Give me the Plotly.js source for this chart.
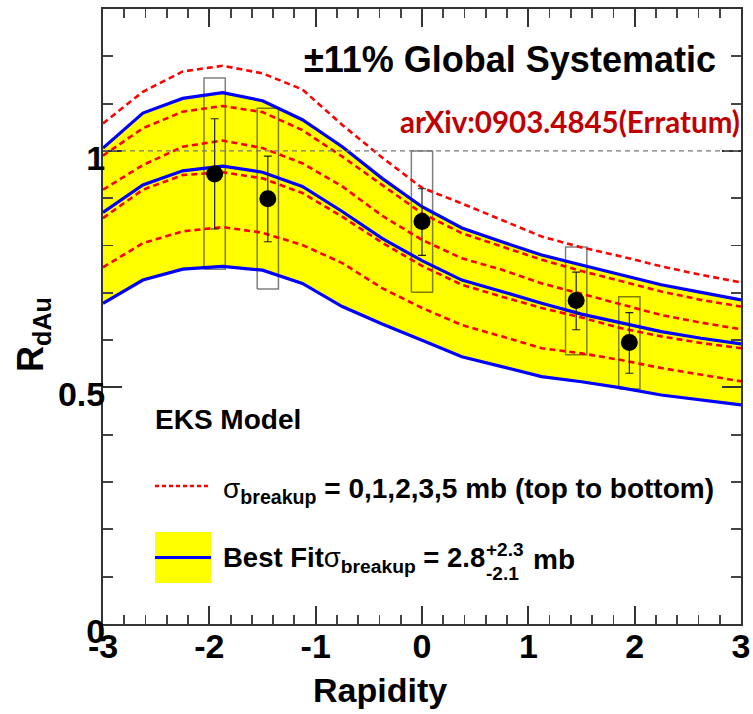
<!DOCTYPE html>
<html>
<head>
<meta charset="utf-8">
<script src="https://cdn.plot.ly/plotly-3.0.1.min.js"></script>
<style>html,body{margin:0;padding:0;background:#fff;}#chart{width:753px;height:714px;}</style>
</head>
<body>
<div id="chart"></div>
<script>
// ---- data ----
const rapidity   = [-3, -2.625, -2.25, -1.875, -1.5, -1.125, -0.75, -0.375, 0, 0.375, 0.75, 1.125, 1.5, 1.875, 2.25, 2.625, 3];
const sigma0     = [1.058, 1.125, 1.168, 1.180, 1.164, 1.130, 1.055, 0.986, 0.922, 0.889, 0.854, 0.819, 0.796, 0.777, 0.756, 0.738, 0.722];
const sigma1     = [0.990, 1.048, 1.083, 1.095, 1.082, 1.044, 0.988, 0.928, 0.868, 0.826, 0.798, 0.770, 0.746, 0.724, 0.703, 0.685, 0.671];
const sigma2     = [0.918, 0.970, 1.009, 1.022, 1.006, 0.974, 0.925, 0.863, 0.812, 0.773, 0.749, 0.720, 0.698, 0.675, 0.653, 0.637, 0.623];
const sigma3     = [0.858, 0.918, 0.949, 0.955, 0.942, 0.911, 0.861, 0.806, 0.757, 0.717, 0.692, 0.668, 0.648, 0.625, 0.608, 0.594, 0.583];
const sigma5     = [0.754, 0.805, 0.830, 0.839, 0.827, 0.801, 0.763, 0.710, 0.668, 0.632, 0.608, 0.583, 0.572, 0.558, 0.541, 0.527, 0.513];
const fitUpper   = [1.006, 1.080, 1.111, 1.123, 1.106, 1.066, 1.009, 0.942, 0.882, 0.837, 0.808, 0.780, 0.759, 0.738, 0.717, 0.701, 0.685];
const fitCentral = [0.870, 0.928, 0.958, 0.968, 0.955, 0.925, 0.872, 0.815, 0.768, 0.727, 0.703, 0.678, 0.655, 0.636, 0.618, 0.604, 0.592];
const fitLower   = [0.678, 0.727, 0.750, 0.756, 0.748, 0.720, 0.671, 0.634, 0.600, 0.565, 0.544, 0.523, 0.512, 0.499, 0.484, 0.474, 0.463];

const dataRapidity = [-1.95, -1.45, 0, 1.45, 1.95];
const dataRdAu     = [0.951, 0.899, 0.851, 0.684, 0.595];
const statHigh     = [1.068, 0.989, 0.920, 0.744, 0.658];
const statLow      = [0.835, 0.808, 0.779, 0.622, 0.530];
const sysHigh      = [1.154, 1.090, 1.000, 0.797, 0.692];
const sysLow       = [0.750, 0.708, 0.701, 0.569, 0.497];
const referenceLevel = 1;

const xTickVals = [-3, -2, -1, 0, 1, 2, 3];
const xTickText = ['-3', '-2', '-1', '0', '1', '2', '3'];
const yTickVals = [0, 0.5, 1];
const yTickText = ['0', '0.5', '1'];

// ---- layout helpers (pixel -> paper) ----
const M = {l: 103, r: 12, t: 9, b: 90}, W = 753, H = 714;
const PW = W - M.l - M.r, PH = H - M.t - M.b;
const px = x => (x - M.l) / PW;
const py = y => (H - M.b - y) / PH;

const FONT = 'Liberation Sans, Arial, Helvetica, sans-serif';
const boxHalf = 0.1;

// systematic boxes as closed rectangles
const boxX = [], boxY = [];
dataRapidity.forEach((x, i) => {
  boxX.push(x - boxHalf, x + boxHalf, x + boxHalf, x - boxHalf, x - boxHalf, null);
  boxY.push(sysLow[i], sysLow[i], sysHigh[i], sysHigh[i], sysLow[i], null);
});

const red = {color: '#ff0000', width: 2.6, dash: '6px,4px'};
const blue = {color: '#0000ff', width: 3.2};

const traces = [
  {x: rapidity, y: fitLower, mode: 'lines', line: {width: 0}, hoverinfo: 'skip', showlegend: false},
  {x: rapidity, y: fitUpper, mode: 'lines', line: {width: 0}, fill: 'tonexty', fillcolor: '#ffff00', hoverinfo: 'skip', showlegend: false},
  {x: boxX, y: boxY, mode: 'lines', line: {color: 'rgba(0,0,0,0.5)', width: 1.5}, showlegend: false},
  {x: rapidity, y: sigma0, mode: 'lines', line: red, showlegend: false},
  {x: rapidity, y: sigma1, mode: 'lines', line: red, showlegend: false},
  {x: rapidity, y: sigma2, mode: 'lines', line: red, showlegend: false},
  {x: rapidity, y: sigma3, mode: 'lines', line: red, showlegend: false},
  {x: rapidity, y: sigma5, mode: 'lines', line: red, showlegend: false},
  {x: rapidity, y: fitUpper, mode: 'lines', line: blue, showlegend: false},
  {x: rapidity, y: fitCentral, mode: 'lines', line: blue, showlegend: false},
  {x: rapidity, y: fitLower, mode: 'lines', line: blue, showlegend: false},
  {x: dataRapidity, y: dataRdAu, mode: 'markers',
   marker: {color: '#000', size: 17},
   error_y: {type: 'data', symmetric: false,
             array: dataRdAu.map((v, i) => statHigh[i] - v),
             arrayminus: dataRdAu.map((v, i) => v - statLow[i]),
             color: '#222', thickness: 1.2, width: 4},
   showlegend: false}
];

const txt = (text, x, y, size, opts = {}) => Object.assign({
  text, x: px(x), y: py(y), xref: 'paper', yref: 'paper', showarrow: false,
  xanchor: 'left', yanchor: 'middle',
  font: {family: FONT, size, color: '#000', weight: 'bold'}
}, opts);

const layout = {
  width: W, height: H, margin: M,
  paper_bgcolor: '#fff', plot_bgcolor: '#fff',
  showlegend: false,
  xaxis: {
    range: [-3, 3], tickmode: 'array', tickvals: xTickVals, ticktext: xTickText,
    ticks: 'inside', ticklen: 18, tickwidth: 2, tickcolor: '#333',
    minor: {tickmode: 'linear', dtick: 0.2, tick0: -3, ticks: 'inside', ticklen: 9, tickwidth: 1.8, tickcolor: '#444', showgrid: false},
    showline: true, linecolor: '#333', linewidth: 2, mirror: 'allticks',
    showgrid: false, zeroline: false, ticklabelstandoff: -9,
    tickfont: {family: FONT, size: 34, color: '#000', weight: 'bold'}
  },
  yaxis: {
    range: [0, 1.3], tickmode: 'array', tickvals: yTickVals, ticktext: yTickText,
    ticks: 'inside', ticklen: 19, tickwidth: 2, tickcolor: '#333',
    minor: {tickmode: 'linear', dtick: 0.1, tick0: 0, ticks: 'inside', ticklen: 10, tickwidth: 1.8, tickcolor: '#444', showgrid: false},
    showline: true, linecolor: '#333', linewidth: 2, mirror: 'allticks',
    showgrid: false, zeroline: false, ticklabelstandoff: -11, ticklabelshift: 7,
    tickfont: {family: FONT, size: 34, color: '#000', weight: 'bold'}
  },
  shapes: [
    {type: 'line', xref: 'paper', x0: 0, x1: 1, yref: 'y', y0: referenceLevel, y1: referenceLevel,
     line: {color: '#777', width: 1.2, dash: '5px,4px'}, layer: 'above'},
    // legend samples
    {type: 'line', xref: 'paper', yref: 'paper', x0: px(155), x1: px(211), y0: py(486), y1: py(486),
     line: {color: '#ff0000', width: 2.4, dash: '4px,3px'}},
    {type: 'rect', xref: 'paper', yref: 'paper', x0: px(155), x1: px(211), y0: py(583), y1: py(532),
     fillcolor: '#ffff00', line: {width: 0}},
    {type: 'line', xref: 'paper', yref: 'paper', x0: px(155), x1: px(211), y0: py(557.5), y1: py(557.5),
     line: {color: '#0000ff', width: 3}}
  ],
  annotations: [
    txt('±11% Global Systematic', 302, 60, 36),
    txt('arXiv:0903.4845(Erratum)', 742, 121, 29.5, {xanchor: 'right',
        font: {family: 'Lato, Open Sans, sans-serif', size: 29.5, color: '#c00000', weight: 'bold'}}),
    txt('EKS Model', 153, 420, 28),
    txt('<span style="font-weight:normal">σ</span><sub>breakup</sub> = 0,1,2,3,5 mb (top to bottom)', 221, 490, 28),
    txt('Best Fit<span style="font-weight:normal">σ</span><sub>breakup</sub> = 2.8', 487, 559, 27.5, {xanchor: 'right'}),
    txt('+2.3', 484, 549, 19),
    txt('-2.1', 484, 573, 19),
    txt('mb', 531, 559, 28),
    txt('Rapidity', 380, 690, 34, {xanchor: 'center'}),
    txt('R<sub>dAu</sub>', 33, 335, 36, {xanchor: 'center', textangle: -90})
  ]
};

Plotly.newPlot('chart', traces, layout, {displayModeBar: false, staticPlot: true});
</script>
</body>
</html>
